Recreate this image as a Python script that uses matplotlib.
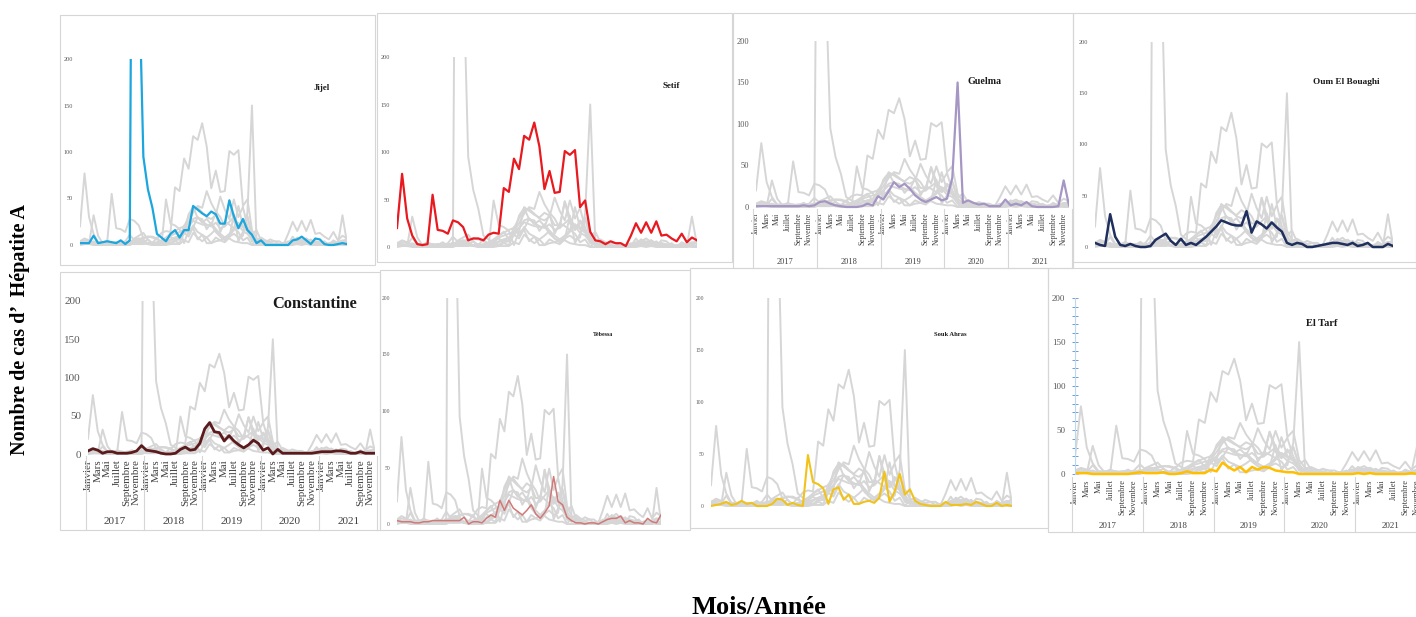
import matplotlib
matplotlib.use("Agg")
import matplotlib.pyplot as plt
import matplotlib.transforms as mtransforms
from matplotlib.patches import Rectangle
from matplotlib.ticker import MultipleLocator

plt.rcParams["font.family"] = ["Liberation Serif", "DejaVu Serif"]

# ===============================
# DATA (monthly cases, Jan 2017 -> Dec 2021)
# ===============================

years = ["2017", "2018", "2019", "2020", "2021"]
months = ["Janvier", "Février", "Mars", "Avril", "Mai", "Juin", "Juillet",
          "Août", "Septembre", "Octobre", "Novembre", "Décembre"]

jijel = [2, 2, 2, 10, 2, 3, 4, 3, 2, 5, 1, 5,
         900, 300, 95, 60, 40, 12, 8, 4, 12, 16, 8, 16,
         16, 42, 38, 34, 31, 36, 33, 23, 23, 48, 31, 18,
         28, 16, 11, 2, 5, 0, 0, 0, 0, 0, 0, 5,
         6, 9, 5, 1, 7, 6, 1, 0, 0, 1, 2, 1]
setif = [20, 77, 30, 12, 3, 2, 3, 55, 18, 17, 14, 28,
         26, 21, 7, 9, 9, 7, 13, 15, 14, 62, 58, 93,
         82, 117, 113, 131, 106, 61, 80, 57, 58, 101, 97, 102,
         42, 49, 16, 7, 6, 3, 6, 4, 4, 1, 12, 25,
         15, 26, 15, 27, 12, 13, 9, 6, 14, 5, 10, 7]
guelma = [1, 1, 1, 1, 1, 1, 1, 1, 1, 2, 1, 2,
          6, 7, 4, 2, 1, 0, 0, 0, 1, 4, 2, 13,
          9, 19, 30, 24, 28, 22, 14, 9, 6, 9, 12, 8,
          10, 35, 150, 5, 8, 5, 3, 4, 1, 1, 1, 9,
          2, 4, 2, 6, 1, 0, 0, 0, 0, 1, 32, 2]
oum_el_bouaghi = [4, 2, 1, 32, 10, 2, 1, 3, 1, 0, 0, 1,
                  7, 10, 13, 6, 2, 8, 2, 4, 2, 6, 10, 15,
                  20, 26, 24, 22, 21, 21, 35, 14, 25, 22, 18, 24,
                  19, 15, 4, 2, 4, 3, 0, 0, 1, 2, 3, 4,
                  4, 3, 2, 4, 1, 2, 4, 0, 0, 0, 3, 1]
constantine = [4, 7, 5, 1, 3, 3, 1, 1, 1, 2, 4, 11,
               5, 4, 3, 1, 0, 0, 1, 6, 9, 5, 6, 14,
               33, 41, 29, 28, 17, 24, 17, 12, 8, 12, 18, 14,
               5, 8, 0, 6, 1, 1, 1, 1, 1, 1, 1, 2,
               3, 3, 3, 4, 4, 3, 1, 1, 3, 1, 1, 1]
tebessa = [3, 2, 2, 2, 1, 1, 2, 2, 3, 3, 3, 3,
           3, 3, 3, 6, 0, 2, 2, 1, 5, 8, 6, 21,
           12, 21, 14, 11, 8, 12, 17, 9, 5, 10, 16, 42,
           20, 17, 6, 3, 1, 1, 0, 1, 1, 0, 2, 4,
           5, 5, 7, 1, 3, 1, 1, 0, 5, 2, 1, 8]
souk_ahras = [0, 1, 2, 4, 1, 2, 5, 2, 3, 0, 0, 0,
              2, 7, 6, 1, 3, 1, 0, 49, 23, 21, 17, 2,
              16, 18, 6, 11, 2, 2, 4, 5, 3, 8, 33, 4,
              14, 31, 11, 16, 5, 2, 1, 0, 0, 0, 4, 1,
              1, 1, 2, 1, 4, 2, 0, 0, 3, 0, 1, 0]
el_tarf = [1, 1, 1, 0, 0, 0, 0, 0, 0, 0, 1, 2,
           1, 1, 1, 2, 0, 0, 1, 3, 1, 1, 1, 5,
           3, 13, 8, 4, 8, 2, 8, 5, 8, 7, 4, 3,
           2, 2, 0, 0, 0, 0, 0, 0, 0, 0, 0, 0,
           1, 0, 1, 0, 0, 0, 0, 0, 0, 1, 0, 0]

# other wilayas, only ever drawn in grey
other_a = [3, 5, 4, 3, 2, 1, 1, 1, 2, 1, 2, 4,
           5, 6, 8, 9, 8, 6, 4, 6, 10, 12, 14, 16,
           25, 35, 42, 40, 58, 45, 36, 30, 20, 25, 30, 22,
           15, 12, 6, 3, 2, 2, 1, 1, 1, 2, 3, 4,
           5, 6, 4, 5, 3, 2, 2, 1, 2, 3, 5, 4]
other_b = [2, 3, 2, 2, 1, 1, 1, 1, 1, 1, 2, 3,
           4, 5, 3, 2, 2, 3, 5, 8, 12, 15, 18, 20,
           30, 38, 40, 35, 30, 28, 32, 52, 38, 28, 49, 30,
           41, 20, 8, 5, 3, 2, 2, 1, 1, 2, 2, 3,
           8, 5, 7, 4, 3, 2, 1, 2, 3, 2, 4, 6]
other_c = [1, 2, 2, 1, 1, 0, 1, 0, 1, 1, 1, 2,
           3, 2, 2, 1, 1, 2, 3, 4, 6, 8, 10, 12,
           20, 28, 30, 25, 22, 20, 24, 18, 20, 48, 25, 18,
           25, 30, 10, 4, 2, 1, 1, 0, 1, 1, 2, 2,
           3, 2, 3, 2, 1, 1, 1, 1, 1, 2, 3, 5]

all_series = [jijel, setif, guelma, oum_el_bouaghi, constantine, tebessa,
              souk_ahras, el_tarf, other_a, other_b, other_c]

# ===============================
# LAYOUT (pixel boxes on the 1416x617 canvas)
# ===============================

W, H = 1416, 617
GREY = "#d6d6d6"

panels = [
    # name, series, colour, frame, (x0, x1, y_zero, y_200), title (x, y, size), tick size, lw, x-axis
    ("Jijel", jijel, "#1ba6de", (60, 15, 375, 265), (80, 347, 245, 59), (322, 88, 6.3), 4.5, 1.6, None),
    ("Setif", setif, "#e8191f", (377, 13, 732, 262), (397, 697, 247, 57), (671, 86, 6.5), 4.5, 1.6, None),
    ("Guelma", guelma, "#a596c4", (733, 13, 1073, 268), (756, 1069, 207, 41), (984, 82, 7.2), 6, 1.6,
     dict(month_fs=5.5, year_y=262, year_fs=6)),
    ("Oum El Bouaghi", oum_el_bouaghi, "#1f2f5e", (1073, 13, 1416, 262), (1095, 1393, 247, 42),
     (1346, 82, 6.7), 4.5, 1.8, None),
    ("Constantine", constantine, "#5b1a1c", (60, 272, 380, 530), (88, 375, 454, 301), (315, 304, 11.8), 8, 2.0,
     dict(month_fs=7.8, year_y=522, year_fs=8)),
    ("Tébessa", tebessa, "#cf7a78", (380, 270, 690, 530), (397, 661, 524, 298), (603, 335, 4.3), 4, 1.1, None),
    ("Souk Ahras", souk_ahras, "#f1c21a", (690, 268, 1048, 528), (711, 1012, 506, 298), (950, 335, 4.7), 4, 1.5,
     None),
    ("El Tarf", el_tarf, "#ffbf00", (1048, 268, 1432, 532), (1075, 1423, 474, 298), (1322, 323, 7.5), 6.5, 1.8,
     dict(month_fs=6, year_y=526, year_fs=6.5)),
]


def fig_rect(x0, y0, x1, y1):
    return [x0 / W, 1 - y1 / H, (x1 - x0) / W, (y1 - y0) / H]


def draw_panel(fig, name, values, color, frame, plot, title, tick_fs, lw, xaxis):
    fr = fig_rect(*frame)
    fig.add_artist(Rectangle(fr[:2], fr[2], fr[3], transform=fig.transFigure,
                             fill=False, edgecolor=GREY, lw=0.8))

    x0, x1, y_zero, y_top = plot
    ppu = (y_zero - y_top) / 200.0
    ymin = -3
    y_bottom = y_zero - ymin * ppu
    ax = fig.add_axes(fig_rect(x0, y_top, x1, y_bottom))
    ax.patch.set_alpha(0)

    months_idx = list(range(60))
    for s in all_series:
        if s is values:
            continue
        ax.plot(months_idx, s, color=GREY, lw=1.4)
    ax.plot(months_idx, values, color=color, lw=lw)

    ax.set_xlim(0, 59)
    ax.set_ylim(ymin, 200)
    ax.set_yticks([0, 50, 100, 150, 200])
    ax.tick_params(axis="y", length=0, pad=5, labelsize=tick_fs, labelcolor="#595959")
    for sp in ax.spines.values():
        sp.set_visible(False)

    if xaxis is None:
        ax.set_xticks([])
    else:
        ax.set_xticks(range(0, 60, 2))
        ax.set_xticklabels(months[::2] * 5, rotation=90, fontsize=xaxis["month_fs"],
                           color="#404040")
        ax.tick_params(axis="x", length=0, pad=2)
        h_px = y_bottom - y_top
        trans = mtransforms.blended_transform_factory(ax.transData, ax.transAxes)
        drop = (frame[3] - y_bottom) / h_px
        for k in range(6):
            ax.plot([12 * k - 0.5] * 2, [0, -drop], transform=trans, color=GREY,
                    lw=0.8, clip_on=False)
        for k, yr in enumerate(years):
            ax.text(12 * k + 5.5, -(xaxis["year_y"] - y_bottom) / h_px, yr, transform=trans,
                    ha="center", va="center", fontsize=xaxis["year_fs"], color="#404040")

    if name == "El Tarf":
        ax.spines["left"].set_visible(True)
        ax.spines["left"].set_color("#bdd7ee")
        ax.spines["left"].set_linewidth(0.8)
        ax.spines["left"].set_bounds(0, 200)
        ax.yaxis.set_minor_locator(MultipleLocator(10))
        ax.tick_params(axis="y", which="both", direction="inout", length=4,
                       color="#5b8bd0", width=0.6)

    tx, ty, tfs = title
    fig.text(tx / W, 1 - ty / H, name, ha="center", va="center",
             fontsize=tfs, fontweight="bold", color="#1a1a1a")
    return ax


def main():
    fig = plt.figure(figsize=(W / 100, H / 100), dpi=100)
    fig.patch.set_facecolor("white")

    for p in panels:
        draw_panel(fig, *p)

    fig.text(20 / W, 1 - 330 / H, "Nombre de cas d’  Hépatite A", rotation=90,
             ha="center", va="center", fontsize=14.5, fontweight="bold")
    fig.text(759 / W, 1 - 608 / H, "Mois/Année", ha="center", va="center",
             fontsize=19, fontweight="bold")

    fig.savefig("out.png", dpi=100)


if __name__ == "__main__":
    main()
